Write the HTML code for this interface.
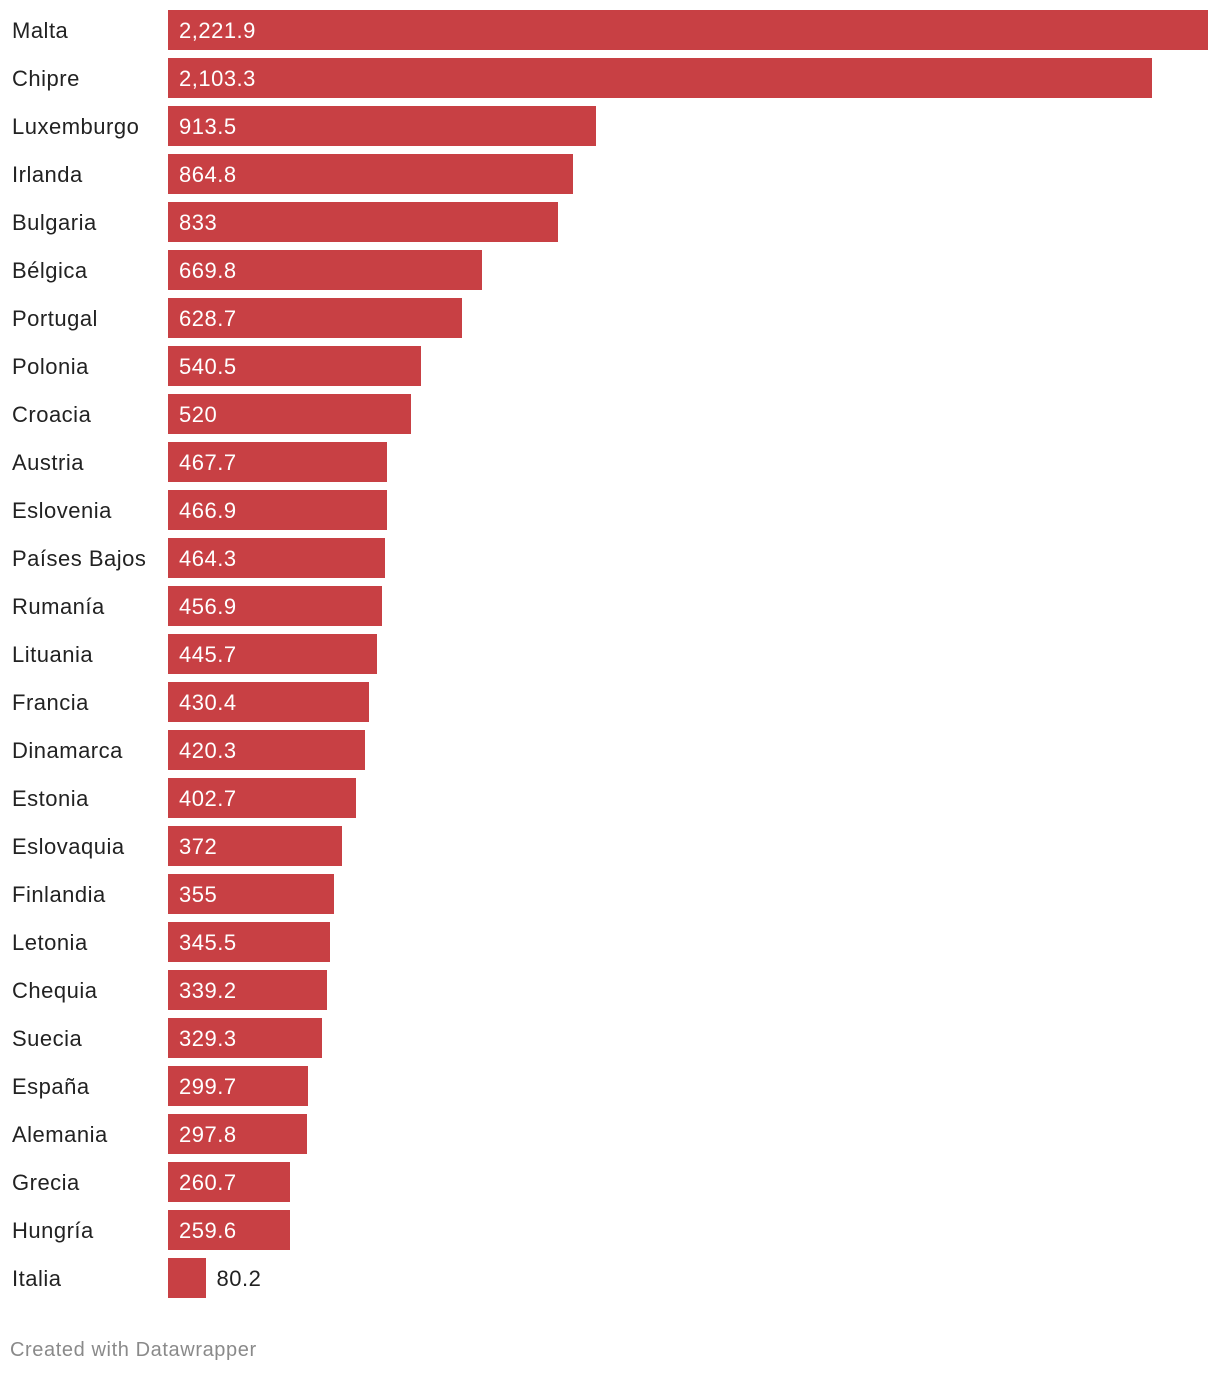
<!DOCTYPE html>
<html><head><meta charset="utf-8">
<style>
html,body{margin:0;padding:0;background:#fff;}
body{width:1220px;height:1374px;position:relative;font-family:"Liberation Sans",Arial,sans-serif;overflow:hidden;}
.lbl{position:absolute;left:12px;font-size:22px;letter-spacing:0.5px;color:#222;line-height:40px;white-space:nowrap;margin-top:1px;}
.bar{position:absolute;left:168px;height:40px;background:#c84044;}
.val{position:absolute;font-size:22px;letter-spacing:0.5px;line-height:40px;white-space:nowrap;margin-top:1px;}
.foot{position:absolute;left:10px;top:1339px;font-size:20px;letter-spacing:0.6px;color:#8a8a8a;}
</style></head>
<body>
<div id="chart"></div>
<div class="foot">Created with Datawrapper</div>
<script>
const countries = ["Malta","Chipre","Luxemburgo","Irlanda","Bulgaria","Bélgica","Portugal","Polonia","Croacia","Austria","Eslovenia","Países Bajos","Rumanía","Lituania","Francia","Dinamarca","Estonia","Eslovaquia","Finlandia","Letonia","Chequia","Suecia","España","Alemania","Grecia","Hungría","Italia"];
const values = [2221.9,2103.3,913.5,864.8,833,669.8,628.7,540.5,520,467.7,466.9,464.3,456.9,445.7,430.4,420.3,402.7,372,355,345.5,339.2,329.3,299.7,297.8,260.7,259.6,80.2];

const x0 = 168, maxW = 1040;
const maxV = Math.max(...values);
function xScale(v){ return v / maxV * maxW; }
function yPos(i){ return 10 + i * 48; }
function fmt(v){ return v.toLocaleString('en-US',{maximumFractionDigits:1}); }

const root = document.getElementById('chart');
countries.forEach((c,i)=>{
  const y = yPos(i);
  const l = document.createElement('div');
  l.className='lbl'; l.style.top=y+'px'; l.textContent=c;
  
  
  root.appendChild(l);
  const w = xScale(values[i]);
  const b = document.createElement('div');
  b.className='bar'; b.style.top=y+'px'; b.style.width=w+'px';
  
  
  root.appendChild(b);
  const t = document.createElement('div');
  t.className='val'; t.style.top=y+'px'; t.textContent=fmt(values[i]);
  if (w > 80) { t.style.left=(x0+11)+'px'; t.style.color='#fff'; }
  else { t.style.left=(x0+w+11)+'px'; t.style.color='#222'; }
  
  
  root.appendChild(t);
});
</script>
</body></html>
